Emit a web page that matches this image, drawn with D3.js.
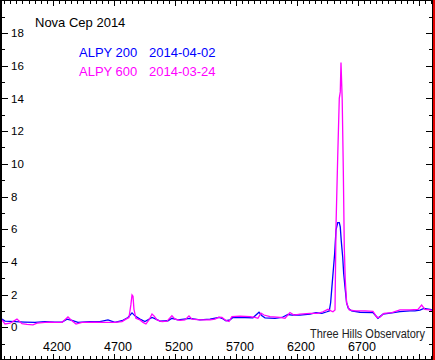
<!DOCTYPE html>
<html><head><meta charset="utf-8">
<script src="https://cdn.jsdelivr.net/npm/d3@7"></script>
<style>body{margin:0;background:#fff} svg{display:block}</style>
</head><body><svg id="c" width="435" height="360"></svg>
<script>
const xTicks=[4200,4700,5200,5700,6200,6700];
const yTicks=[0,2,4,6,8,10,12,14,16,18];
const alpy200Wl=[3782,3807,3889,3970,4052,4134,4216,4274,4315,4356,4405,4503,4585,4651,4708,4766,4815,4848,4872,4913,4954,5012,5044,5077,5143,5175,5225,5323,5405,5487,5561,5585,5618,5651,5675,5774,5839,5864,5889,5913,5938,6020,6077,6126,6159,6225,6307,6356,6405,6446,6465,6476,6487,6498,6509,6520,6534,6547,6555,6563,6575,6583,6596,6607,6621,6648,6717,6823,6864,6905,6979,7044,7126,7167,7208,7241,7290,7315];
const alpy200Flux=[0.5,0.38,0.35,0.32,0.3,0.35,0.32,0.32,0.5,0.42,0.3,0.35,0.35,0.45,0.3,0.4,0.6,0.88,0.7,0.5,0.35,0.6,0.5,0.38,0.4,0.55,0.45,0.55,0.45,0.5,0.6,0.55,0.4,0.45,0.6,0.6,0.58,0.75,0.92,0.7,0.58,0.55,0.6,0.78,0.75,0.75,0.8,0.9,0.85,0.95,1.0,1.5,2.5,3.5,4.5,5.95,6.4,6.4,6.15,5.3,4.3,3.3,2.3,1.5,1.16,1.0,0.92,0.9,0.55,0.8,0.88,0.96,1.0,1.0,1.05,1.16,1.1,1.05];
const alpy600Wl=[3782,3807,3848,3905,3946,3987,4036,4069,4134,4175,4216,4274,4323,4348,4389,4438,4544,4626,4708,4766,4798,4823,4839,4848,4856,4864,4880,4913,4938,4962,4987,5012,5028,5053,5094,5135,5175,5200,5241,5282,5315,5339,5405,5487,5528,5561,5585,5618,5643,5667,5733,5815,5856,5880,5905,5930,5979,6061,6102,6143,6175,6225,6307,6372,6413,6454,6479,6495,6512,6520,6534,6547,6555,6561,6571,6580,6588,6596,6607,6629,6676,6758,6823,6856,6880,6913,6979,7044,7126,7192,7222,7249,7290,7315];
const alpy600Flux=[0.45,0.2,0.25,0.5,0.22,0.18,0.15,0.25,0.3,0.32,0.3,0.3,0.63,0.45,0.2,0.3,0.32,0.3,0.3,0.35,0.5,0.6,1.4,1.98,1.9,1.1,0.55,0.45,0.3,0.2,0.45,0.81,0.7,0.45,0.35,0.38,0.71,0.5,0.42,0.45,0.7,0.5,0.45,0.45,0.5,0.62,0.6,0.42,0.35,0.65,0.68,0.65,0.6,0.55,0.87,0.75,0.65,0.6,0.55,0.9,0.75,0.8,0.85,0.85,0.95,1.1,1.0,0.95,1.06,6.15,10.4,14.0,14.4,16.2,13.9,9.6,4.9,2.9,1.5,1.06,1.0,1.0,0.98,0.6,0.62,0.85,0.9,1.06,1.06,1.1,1.36,1.1,1.06,1.0];

const svg=d3.select("#c");
const L=1,R=432,B=359;
const x=d3.scaleLinear().domain([3774,7307]).range([L,R]);
const y=d3.scaleLinear().domain([-1.94,20.02]).range([B,0]);

svg.append("rect").attr("width",435).attr("height",360).attr("fill","#fff");
svg.append("defs").append("clipPath").attr("id","clip").append("rect")
  .attr("x",2).attr("y",1).attr("width",R-2).attr("height",B-1);

const line=d3.line().x(d=>x(d[0])).y(d=>y(d[1]));
const s200=d3.zip(alpy200Wl,alpy200Flux);
const s600=d3.zip(alpy600Wl,alpy600Flux);
const g=svg.append("g").attr("clip-path","url(#clip)");
g.append("path").datum(s200).attr("d",line).attr("fill","none").attr("stroke","#0000ff").attr("stroke-width",1.3);
g.append("path").datum(s600).attr("d",line).attr("fill","none").attr("stroke","#ff00ff").attr("stroke-width",1.3);

// axes
const xMinor=d3.range(3800,7301,50);
const yMinor=d3.range(-1,21,1);
const ax=svg.append("g").attr("stroke","#000").attr("stroke-width",1).attr("shape-rendering","crispEdges");
xMinor.forEach(v=>{
  const major=xTicks.includes(v)||v%500===200;
  const len=major?5:3;
  const px=Math.round(x(v))+0.5;
  ax.append("line").attr("x1",px).attr("x2",px).attr("y1",1).attr("y2",1+len);
  ax.append("line").attr("x1",px).attr("x2",px).attr("y1",B).attr("y2",B-len);
});
yMinor.forEach(v=>{
  const major=v%2===0;
  const len=major?6:3;
  const py=Math.round(y(v))+0.5;
  ax.append("line").attr("x1",2).attr("x2",2+len).attr("y1",py).attr("y2",py);
  ax.append("line").attr("x1",R).attr("x2",R-len).attr("y1",py).attr("y2",py);
});
// frame
svg.append("rect").attr("x",0).attr("y",0).attr("width",2).attr("height",360).attr("fill","#000");
svg.append("rect").attr("x",0).attr("y",0).attr("width",433).attr("height",1).attr("fill","#000");
svg.append("rect").attr("x",0).attr("y",359).attr("width",433).attr("height",1).attr("fill","#000");
svg.append("rect").attr("x",432).attr("y",0).attr("width",1).attr("height",360).attr("fill","#000");
svg.append("rect").attr("x",433).attr("y",0).attr("width",2).attr("height",360).attr("fill","#e00000");

const font="Liberation Sans, Arial, sans-serif";
svg.selectAll("text.yl").data(yTicks).enter().append("text").attr("class","yl")
  .attr("x",11).attr("y",d=>y(d)).attr("dy","0.36em")
  .attr("font-family",font).attr("font-size",11.5).attr("fill","#000").text(d=>d);
svg.selectAll("text.xl").data(xTicks).enter().append("text").attr("class","xl")
  .attr("x",d=>x(d)+4).attr("y",351).attr("text-anchor","middle")
  .attr("font-family",font).attr("font-size",12.5).attr("fill","#000").text(d=>d);

svg.append("text").attr("x",35).attr("y",27).attr("font-family",font).attr("font-size",13).attr("fill","#000").text("Nova Cep 2014");
svg.append("text").attr("x",79).attr("y",57).attr("font-family",font).attr("font-size",13).attr("fill","#0000ff").text("ALPY 200");
svg.append("text").attr("x",149).attr("y",57).attr("font-family",font).attr("font-size",13).attr("fill","#0000ff").text("2014-04-02");
svg.append("text").attr("x",79).attr("y",76).attr("font-family",font).attr("font-size",13).attr("fill","#ff00ff").text("ALPY 600");
svg.append("text").attr("x",149).attr("y",76).attr("font-family",font).attr("font-size",13).attr("fill","#ff00ff").text("2014-03-24");
svg.append("text").attr("x",310).attr("y",338).attr("font-family",font).attr("font-size",12).attr("fill","#222")
  .attr("textLength",115).attr("lengthAdjust","spacingAndGlyphs").text("Three Hills Observatory");
</script>
</body></html>
